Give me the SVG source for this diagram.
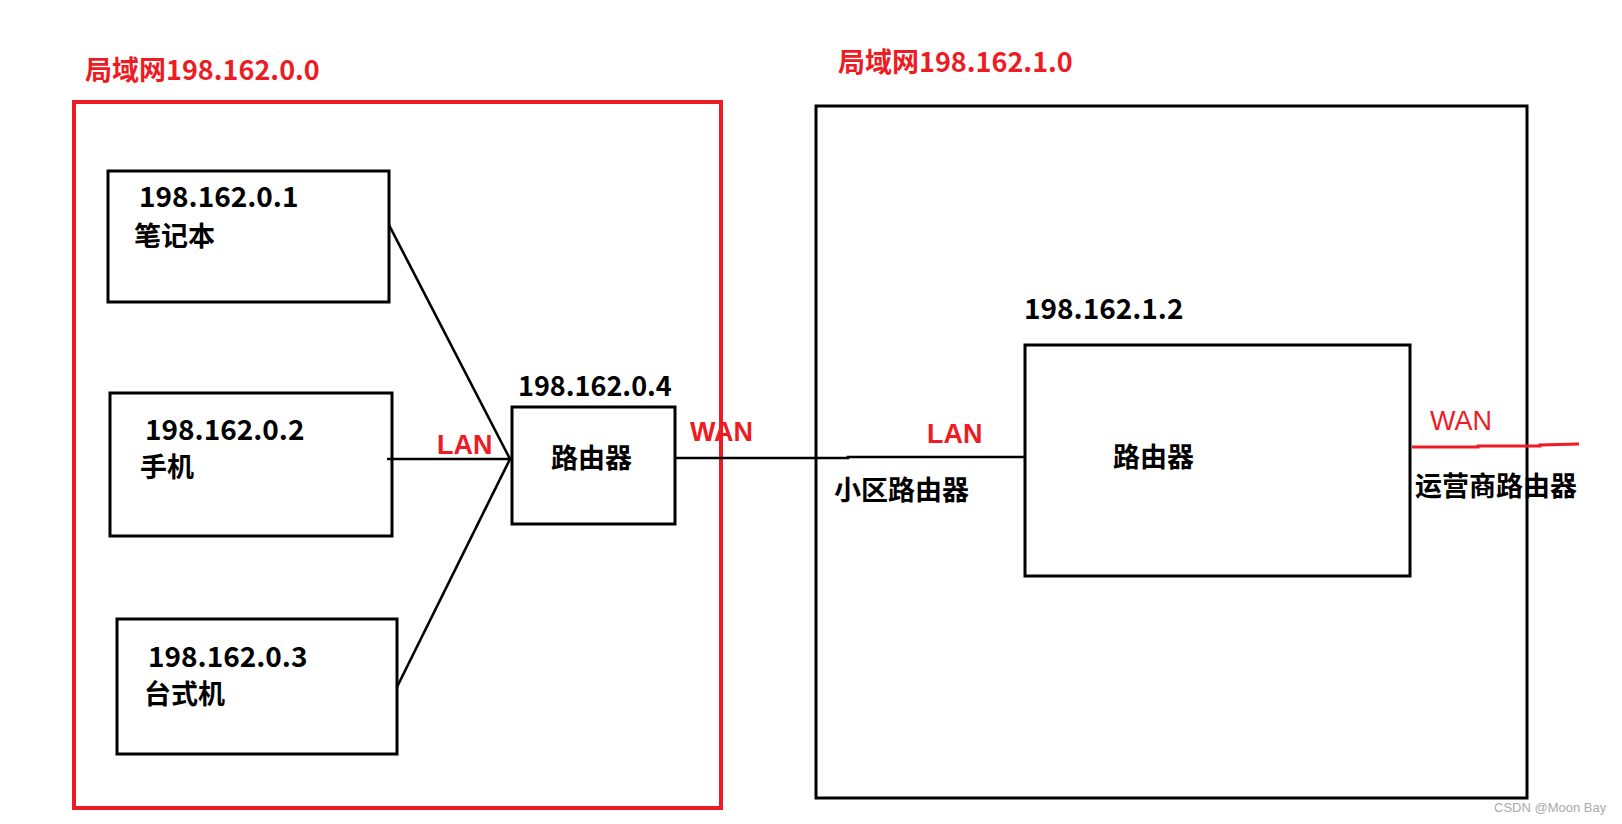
<svg xmlns="http://www.w3.org/2000/svg" width="1622" height="824" viewBox="0 0 1622 824">
<style>
.t{font-family:"Noto Sans CJK SC","Liberation Sans",sans-serif;font-weight:700;font-size:27px;fill:#000;dominant-baseline:central}
.d{font-size:28px}
.r{fill:#ed1c24}
.l{font-family:"Liberation Sans","Noto Sans CJK SC",sans-serif}
.n{font-weight:400}
.box{fill:none;stroke:#000;stroke-width:3}
.ln{fill:none;stroke:#000;stroke-width:2.6}
</style>
<rect width="1622" height="824" fill="#fff"/>
<g id="lan0">
<rect x="74" y="102" width="647" height="706" fill="none" stroke="#ed1c24" stroke-width="4"/>
<text class="t r" x="85" y="68" font-size="30">局域网198.162.0.0</text>
</g>
<g id="lan1">
<rect x="816" y="106" width="711" height="692" fill="none" stroke="#000" stroke-width="3"/>
<text class="t r" x="838" y="60" font-size="30">局域网198.162.1.0</text>
</g>
<g id="laptop">
<rect class="box" x="108" y="171" width="281" height="131"/>
<text class="t d" x="139" y="195">198.162.0.1</text>
<text class="t" x="134" y="234">笔记本</text>
</g>
<g id="phone">
<rect class="box" x="110" y="393" width="282" height="143"/>
<text class="t d" x="145" y="428">198.162.0.2</text>
<text class="t" x="140" y="465">手机</text>
</g>
<g id="desktop">
<rect class="box" x="117" y="619" width="280" height="135"/>
<text class="t d" x="148" y="655">198.162.0.3</text>
<text class="t" x="144" y="692">台式机</text>
</g>
<g id="router0">
<rect class="box" x="512" y="407" width="163" height="117"/>
<text class="t" x="518" y="384" font-size="29.5">198.162.0.4</text>
<text class="t" x="551" y="456" font-size="27.5">路由器</text>
</g>
<g id="router1">
<rect class="box" x="1025" y="345" width="385" height="231"/>
<text class="t d" x="1024" y="307">198.162.1.2</text>
<text class="t" x="1113" y="455" font-size="27.5">路由器</text>
</g>
<g id="connectors">
<line class="ln" x1="389" y1="225" x2="510" y2="459"/>
<line class="ln" x1="387" y1="459" x2="512" y2="459"/>
<line class="ln" x1="397" y1="687" x2="510" y2="459"/>
<polyline class="ln" points="674,458 848,458 848,457 1025,457"/>
<polyline fill="none" stroke="#ed1c24" stroke-width="3" points="1412,447 1478,447 1478,446 1540,446 1540,445 1579,444"/>
</g>
<g id="labels">
<text class="t r l" x="437" y="445" font-size="27.5">LAN</text>
<text class="t r l" x="690" y="432" font-size="31.5">WAN</text>
<text class="t r l" x="927" y="434" font-size="27.5">LAN</text>
<text class="t" x="834" y="488">小区路由器</text>
<text class="t r l n" x="1430" y="421" font-size="29.5">WAN</text>
<text class="t" x="1415" y="484">运营商路由器</text>
<text x="1494" y="807" font-family="Liberation Sans,sans-serif" font-size="13" fill="#aaa" dominant-baseline="central">CSDN @Moon Bay</text>
</g>
</svg>
